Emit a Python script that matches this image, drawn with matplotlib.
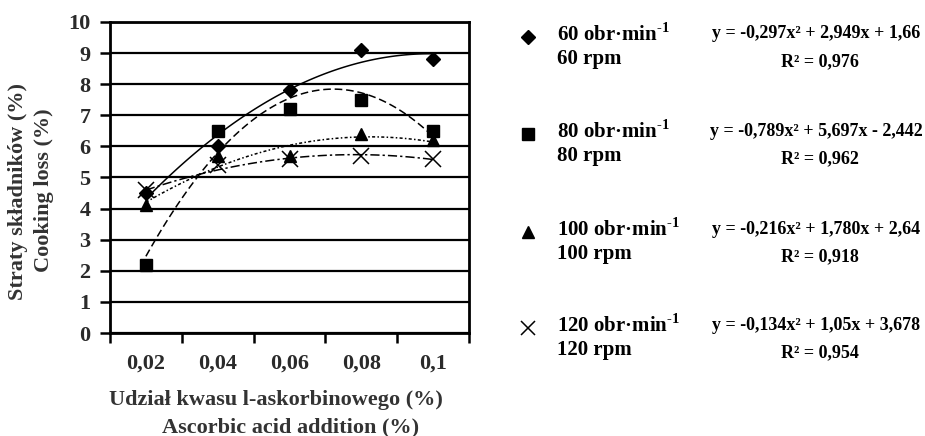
import numpy as np
import matplotlib.pyplot as plt
from matplotlib.ticker import FixedLocator

plt.rcParams['font.family'] = ['Liberation Serif', 'DejaVu Serif']
plt.rcParams['font.weight'] = 'bold'
plt.rcParams['mathtext.fontset'] = 'custom'
plt.rcParams['mathtext.rm'] = 'Liberation Serif:bold'
plt.rcParams['mathtext.bf'] = 'Liberation Serif:bold'

# data
doses = ["0,02", "0,04", "0,06", "0,08", "0,1"]
speeds = ["60", "80", "100", "120"]
loss_60 = [4.5, 6.0, 7.8, 9.1, 8.8]
loss_80 = [2.2, 6.5, 7.2, 7.5, 6.5]
loss_100 = [4.1, 5.7, 5.7, 6.4, 6.2]
loss_120 = [4.6, 5.4, 5.6, 5.7, 5.6]

# trend line coefficients printed on the chart (x = 1..5)
coef_60 = [-0.297, 2.949, 1.66]
coef_80 = [-0.789, 5.697, -2.442]
coef_100 = [-0.216, 1.780, 2.64]
coef_120 = [-0.134, 1.05, 3.678]
equations = ["y = -0,297x² + 2,949x + 1,66",
             "y = -0,789x² + 5,697x - 2,442",
             "y = -0,216x² + 1,780x + 2,64",
             "y = -0,134x² + 1,05x + 3,678"]
r2 = ["R² = 0,976", "R² = 0,962", "R² = 0,918", "R² = 0,954"]

series = [loss_60, loss_80, loss_100, loss_120]
coefs = [coef_60, coef_80, coef_100, coef_120]
markers = [('D', 7, 1), ('s', 9, 1), ('^', 9, 1), ('x', 11, 1.1)]
styles = ['-', (0, (5, 2.5)), (0, (2, 1.5, 1, 1.5)), (0, (6, 2, 1.5, 2))]

fig = plt.figure(figsize=(9.25, 4.36), dpi=100)
ax = fig.add_axes([110 / 925, 1 - 333 / 436, 359 / 925, 311 / 436])

xs = np.arange(1, len(doses) + 1)
xt = np.linspace(1, 5, 100)
for vals, c, (m, ms, mew), ls in zip(series, coefs, markers, styles):
    ax.plot(xt, np.polyval(c, xt), color='black', lw=1.1, linestyle=ls, zorder=3)
    ax.plot(xs, vals, linestyle='none', marker=m, ms=ms, mew=mew,
            color='black', zorder=4)

ax.set_xlim(0.5, 5.5)
ax.set_ylim(0, 10)
ax.set_yticks(range(0, 11))
ax.yaxis.grid(True, color='black', lw=1.6)
ax.set_axisbelow(True)
ax.xaxis.set_major_locator(FixedLocator(np.arange(0.5, 6, 1)))
ax.xaxis.set_minor_locator(FixedLocator(xs))
ax.set_xticklabels([])
ax.set_xticklabels(doses, minor=True)
ax.tick_params(axis='x', which='major', length=7, width=1.8, direction='out')
ax.tick_params(axis='x', which='minor', length=0, pad=15, labelsize=16)
ax.tick_params(axis='y', length=7, width=1.8, labelsize=16, pad=7)
for s in ax.spines.values():
    s.set_linewidth(2)
    s.set_color('black')
for lab in ax.get_xticklabels(minor=True) + ax.get_yticklabels():
    lab.set_color('#2a2a2a')

fig.text(18 / 925, 1 - 192 / 436, "Straty składników (%)", rotation=90,
         ha='center', va='center', fontsize=16, color='#333333')
fig.text(44 / 925, 1 - 190 / 436, "Cooking loss (%)", rotation=90,
         ha='center', va='center', fontsize=16, color='#333333')
fig.text(276 / 925, 1 - 400 / 436, "Udział kwasu l-askorbinowego (%)",
         ha='center', va='center', fontsize=16, color='#333333')
fig.text(291 / 925, 1 - 427 / 436, "Ascorbic acid addition (%)",
         ha='center', va='center', fontsize=16, color='#333333')

# legend block
rows_y = [34, 131, 229, 325]
for sp, (m, ms, mew), eq, r, y in zip(speeds, markers, equations, r2, rows_y):
    fig.lines.append(plt.Line2D([528 / 925], [1 - (y + 3) / 436], marker=m,
                                ms=ms * 0.95, mew=mew, color='black',
                                linestyle='none', transform=fig.transFigure))
    fig.text(557 / 925, 1 - y / 436, sp + r" obr·min$^{\text{-1}}$",
             ha='left', va='center', fontsize=15)
    fig.text(557 / 925, 1 - (y + 25) / 436, sp + " rpm",
             ha='left', va='center', fontsize=15)
    fig.text(816 / 925, 1 - y / 436, eq, ha='center', va='center', fontsize=13)
    fig.text(820 / 925, 1 - (y + 28) / 436, r, ha='center', va='center', fontsize=13)

fig.savefig('out.png', dpi=100)
